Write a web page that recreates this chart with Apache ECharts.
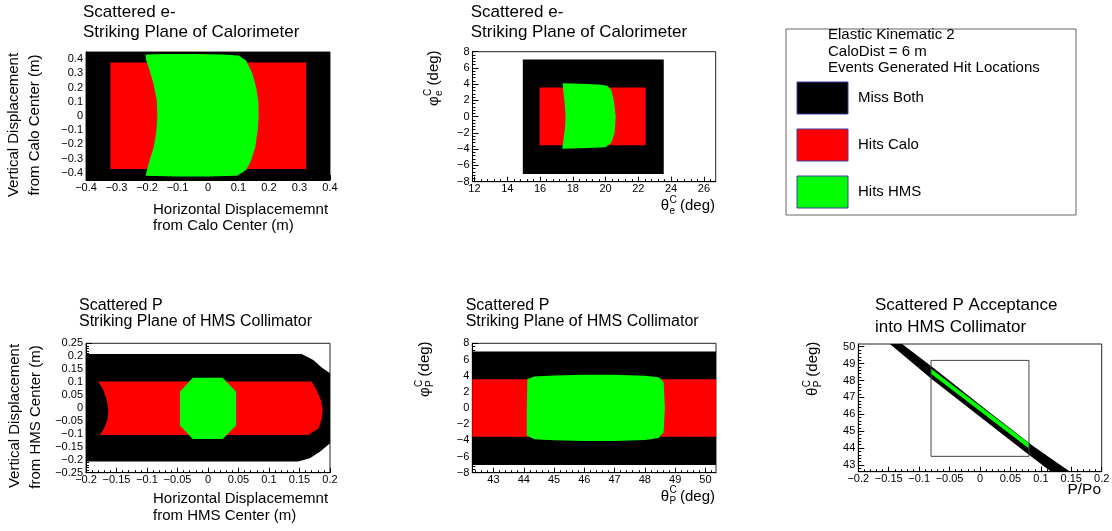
<!DOCTYPE html>
<html><head><meta charset="utf-8">
<script src="https://cdn.jsdelivr.net/npm/echarts@6/dist/echarts.min.js"></script>
<style>html,body{margin:0;padding:0;background:#fff}#c{width:1112px;height:531px}</style>
</head><body><div id="c"></div>
<script>
// ================= DATA (region outlines) =================
// Panel 1: scattered e- on calorimeter plane (m)
var caloMissBoth = [[-0.4,-0.45],[0.4,-0.45],[0.4,0.45],[-0.4,0.45]];
var caloHitsCalo = [[-0.32,-0.373],[0.322,-0.373],[0.322,0.376],[-0.32,0.376]];
var caloHitsHMS = [[-0.204,0.432],[-0.15,0.436],[-0.05,0.436],[0.05,0.433],[0.1,0.425],[0.125,0.39],[0.145,0.3],[0.158,0.2],[0.165,0.1],[0.166,0],[0.163,-0.1],[0.155,-0.22],[0.14,-0.32],[0.125,-0.38],[0.095,-0.42],[0,-0.425],[-0.1,-0.425],[-0.205,-0.42],[-0.2,-0.38],[-0.19,-0.3],[-0.178,-0.22],[-0.17,-0.12],[-0.166,0],[-0.168,0.11],[-0.179,0.23],[-0.195,0.345],[-0.204,0.4]];
// Panel 2: scattered e- angles (deg)
var angMissBoth = [[14.95,-7.05],[23.55,-7.05],[23.55,7.05],[14.95,7.05]];
var angHitsCalo = [[15.97,-3.5],[22.45,-3.5],[22.45,3.6],[15.97,3.6]];
var angHitsHMS = [[17.38,4.12],[18.5,4.05],[19.6,3.95],[20.1,3.8],[20.35,3.3],[20.5,2.0],[20.62,0],[20.55,-2.0],[20.35,-3.2],[20.0,-3.75],[19.0,-3.85],[17.9,-3.9],[17.35,-3.95],[17.42,-3.0],[17.52,-1.5],[17.56,0],[17.5,1.8],[17.42,3.2]];
// Panel 4: scattered P on HMS collimator plane (m)
var hmsMissBoth = [[-0.2,0.209],[0.1535,0.209],[0.1726,0.1855],[0.186,0.157],[0.2,0.134],[0.2,-0.136],[0.1835,-0.169],[0.167,-0.194],[0.148,-0.207],[-0.2,-0.207]];
var hmsHitsCalo = [[-0.18,0.102],[0.17,0.102],[0.178,0.07],[0.185,0.031],[0.188,-0.008],[0.186,-0.046],[0.181,-0.079],[0.164,-0.104],[-0.177,-0.104],[-0.1705,-0.079],[-0.165,-0.046],[-0.1634,-0.008],[-0.166,0.031],[-0.1716,0.07]];
var hmsHitsHMS = [[-0.025,0.117],[0.024,0.117],[0.046,0.063],[0.046,-0.068],[0.024,-0.12],[-0.025,-0.12],[-0.046,-0.068],[-0.046,0.063]];
// Panel 5: scattered P angles (deg)
var pAngMissBoth = [[42.3,-7.05],[50.35,-7.05],[50.35,7.0],[42.3,7.0]];
var pAngHitsCalo = [[42.3,-3.55],[50.35,-3.55],[50.35,3.55],[42.3,3.55]];
var pAngHitsHMS = [[44.12,3.6],[44.35,3.9],[45.0,4.02],[46.0,4.1],[47.0,4.1],[48.0,4.0],[48.45,3.8],[48.62,3.2],[48.66,0],[48.62,-3.0],[48.45,-3.7],[48.0,-3.95],[47.0,-4.07],[46.0,-4.08],[45.0,-4.0],[44.35,-3.85],[44.1,-3.4],[44.1,0]];
// Panel 6: acceptance, P/Po vs theta (deg)
var accMissBoth = [[-0.128,50.16],[-0.073,48.65],[0.004,46.45],[0.086,44.15],[0.148,42.6],[0.117,42.6],[0.068,43.95],[0.0,45.85],[-0.08,48.1],[-0.148,50.16]];
var accHitsHMS = [[-0.0805,48.7],[0.0805,44.28],[0.0805,43.98],[-0.0805,48.4]];
var accBox = [[-0.0805,43.51],[0.0805,43.51],[0.0805,49.19],[-0.0805,49.19]];

// Tick labels
var p1XTicks = [-0.4,-0.3,-0.2,-0.1,0,0.1,0.2,0.3,0.4];
var p1YTicks = [-0.4,-0.3,-0.2,-0.1,0,0.1,0.2,0.3,0.4];
var p2XTicks = [12,14,16,18,20,22,24,26];
var p2YTicks = [-8,-6,-4,-2,0,2,4,6,8];
var p4XTicks = [-0.2,-0.15,-0.1,-0.05,0,0.05,0.1,0.15,0.2];
var p4YTicks = [-0.25,-0.2,-0.15,-0.1,-0.05,0,0.05,0.1,0.15,0.2,0.25];
var p5XTicks = [43,44,45,46,47,48,49,50];
var p5YTicks = [-8,-6,-4,-2,0,2,4,6,8];
var p6XTicks = [-0.2,-0.15,-0.1,-0.05,0,0.05,0.1,0.15,0.2];
var p6YTicks = [43,44,45,46,47,48,49,50];

// Legend
var legendHeader = ['Elastic Kinematic 2','CaloDist = 6 m','Events Generated Hit Locations'];
var legendNames = ['Miss Both','Hits Calo','Hits HMS'];
var legendColors = ['#000000','#ff0000','#00ff00'];

// ================= BUILD =================
var FONT = '"Liberation Sans", Arial, Helvetica, sans-serif';
var BLACK = legendColors[0], RED = legendColors[1], GREEN = legendColors[2];

function minorTicks(min, max, step) {
  var out = [], n0 = Math.ceil(min / step - 1e-9), n1 = Math.floor(max / step + 1e-9);
  for (var n = n0; n <= n1; n++) out.push(Math.round(n * step * 1e6) / 1e6);
  return out;
}
function fmt(v) { return String(v).replace('-', '\u2212'); }

var grids = [
  {left: 86, top: 52, width: 244, height: 128},
  {left: 472.5, top: 51.7, width: 243.2, height: 130},
  {left: 86, top: 343.3, width: 244, height: 129.4},
  {left: 472.3, top: 343.3, width: 243.7, height: 129.4},
  {left: 858.3, top: 344, width: 243.4, height: 127.7}
];
grids.forEach(function (g) {
  g.show = true; g.borderColor = '#222'; g.borderWidth = 1; g.backgroundColor = 'transparent';
  g.containLabel = false; g.outerBoundsMode = 'none';
});

var axesDef = [
  // [xmin,xmax,xTicks,xMinor, ymin,ymax,yTicks,yMinor]
  [-0.4, 0.4, p1XTicks, 0.02, -0.45, 0.45, p1YTicks, 0.02],
  [11.88, 26.72, p2XTicks, 0.4, -8, 8, p2YTicks, 0.4],
  [-0.2, 0.2, p4XTicks, 0.01, -0.25, 0.25, p4YTicks, 0.01],
  [42.3, 50.35, p5XTicks, 0.2, -8, 8, p5YTicks, 0.4],
  [-0.2, 0.2, p6XTicks, 0.01, 42.6, 50.16, p6YTicks, 0.2]
];

var xAxes = [], yAxes = [];
function mkAxis(kind, gi, min, max, major, minorStep) {
  var isX = kind === 'x';
  var common = {type: 'value', gridIndex: gi, min: min, max: max, position: isX ? 'bottom' : 'left',
    splitLine: {show: false}, axisPointer: {show: false}, scale: true};
  var len = isX ? 5 : 6;
  var main = Object.assign({}, common, {
    axisLine: {show: true, onZero: false, lineStyle: {color: '#000', width: 1}},
    axisTick: {show: true, inside: true, length: len, customValues: major, lineStyle: {color: '#000', width: 1}},
    axisLabel: {show: true, customValues: major, margin: isX ? 2 : 3, fontSize: 11, color: '#000',
      fontFamily: FONT, formatter: fmt, showMinLabel: true, showMaxLabel: true, hideOverlap: false}
  });
  var sub = Object.assign({}, common, {
    axisLine: {show: false, onZero: false},
    axisTick: {show: true, inside: true, length: len / 2, customValues: minorTicks(min, max, minorStep),
      lineStyle: {color: '#000', width: 1}},
    axisLabel: {show: false}
  });
  return [main, sub];
}
axesDef.forEach(function (d, gi) {
  xAxes = xAxes.concat(mkAxis('x', gi, d[0], d[1], d[2], d[3]));
  yAxes = yAxes.concat(mkAxis('y', gi, d[4], d[5], d[6], d[7]));
});

function poly(gi, pts, fill, stroke, z) {
  return {
    type: 'custom', xAxisIndex: gi * 2, yAxisIndex: gi * 2, coordinateSystem: 'cartesian2d',
    data: [pts[0]], silent: true, clip: true, z: z || 2,
    renderItem: function (params, api) {
      var p = pts.map(function (d) { return api.coord(d); });
      return {type: 'polygon', shape: {points: p},
        style: stroke ? {fill: 'none', stroke: stroke, lineWidth: 1} : {fill: fill}};
    }
  };
}

var series = [
  poly(0, caloMissBoth, BLACK), poly(0, caloHitsCalo, RED), poly(0, caloHitsHMS, GREEN),
  poly(1, angMissBoth, BLACK), poly(1, angHitsCalo, RED), poly(1, angHitsHMS, GREEN),
  poly(2, hmsMissBoth, BLACK), poly(2, hmsHitsCalo, RED), poly(2, hmsHitsHMS, GREEN),
  poly(3, pAngMissBoth, BLACK), poly(3, pAngHitsCalo, RED), poly(3, pAngHitsHMS, GREEN),
  poly(4, accMissBoth, BLACK), poly(4, accHitsHMS, GREEN), poly(4, accBox, null, '#444', 5)
];

function txt(x, y, s, fs, align, rot) {
  return {type: 'text', x: x, y: y, rotation: rot || 0, silent: true,
    style: {text: s, fontSize: fs, fontFamily: FONT, fill: '#000', align: align || 'left', verticalAlign: 'middle'}};
}
function greek(x, y, rot, base, bw, sup, sub, rest) {
  return {type: 'group', x: x, y: y, rotation: rot, silent: true, children: [
    txt(0, 0, base, 15), txt(bw + 0.5, -6, sup, 10), txt(bw + 0.5, 5, sub, 10), txt(bw + 11, 0, rest, 15)
  ]};
}
var R = Math.PI / 2;
var graphics = [
  // Panel 1
  txt(83, 12.5, 'Scattered e-', 17), txt(83, 32, 'Striking Plane of Calorimeter', 17),
  txt(14, 125, 'Vertical Displacement', 15, 'center', R), txt(35, 125, 'from Calo Center (m)', 15, 'center', R),
  txt(153, 209.5, 'Horizontal Displacememnt', 15), txt(153, 226, 'from Calo Center (m)', 15),
  // Panel 2
  txt(470.7, 12.5, 'Scattered e-', 17), txt(470.7, 32, 'Striking Plane of Calorimeter', 17),
  greek(434, 106, R, '\u03c6', 9.6, 'C', 'e', '(deg)'),
  greek(660.7, 206, 0, '\u03b8', 8.3, 'C', 'e', '(deg)'),
  // Panel 4
  txt(79, 305.4, 'Scattered P', 16), txt(79, 321.4, 'Striking Plane of HMS Collimator', 16),
  txt(15, 416, 'Vertical Displacement', 15, 'center', R), txt(36, 417, 'from HMS Center (m)', 15, 'center', R),
  txt(153, 499, 'Horizontal Displacememnt', 15), txt(153, 515.5, 'from HMS Center (m)', 15),
  // Panel 5
  txt(465.7, 305.4, 'Scattered P', 16), txt(465.7, 321.4, 'Striking Plane of HMS Collimator', 16),
  greek(425, 397, R, '\u03c6', 9.6, 'C', 'P', '(deg)'),
  greek(660.7, 496.7, 0, '\u03b8', 8.3, 'C', 'P', '(deg)'),
  // Panel 6
  txt(875, 305, 'Scattered P Acceptance', 17), txt(875, 327, 'into HMS Collimator', 17),
  greek(813, 396, R, '\u03b8', 8.3, 'C', 'P', '(deg)'),
  txt(1101, 490, 'P/Po', 15.5, 'right'),
  // Legend box
  {type: 'rect', shape: {x: 786, y: 29, width: 290, height: 186}, silent: true,
    style: {fill: '#fff', stroke: '#666', lineWidth: 1}}
];
legendHeader.forEach(function (s, i) { graphics.push(txt(828, [35, 51.5, 67.5][i], s, 15)); });
legendNames.forEach(function (s, i) {
  var y = 82 + i * 47;
  graphics.push({type: 'rect', shape: {x: 797, y: y, width: 51, height: 32}, silent: true,
    style: {fill: legendColors[i], stroke: '#3c3ca0', lineWidth: 1}});
  graphics.push(txt(858, y + 16, s, 15));
});

var chart = echarts.init(document.getElementById('c'), null, {renderer: 'canvas'});
chart.setOption({
  animation: false,
  backgroundColor: '#fff',
  textStyle: {fontFamily: FONT},
  grid: grids,
  xAxis: xAxes,
  yAxis: yAxes,
  series: series,
  graphic: graphics
});
</script>
</body></html>
